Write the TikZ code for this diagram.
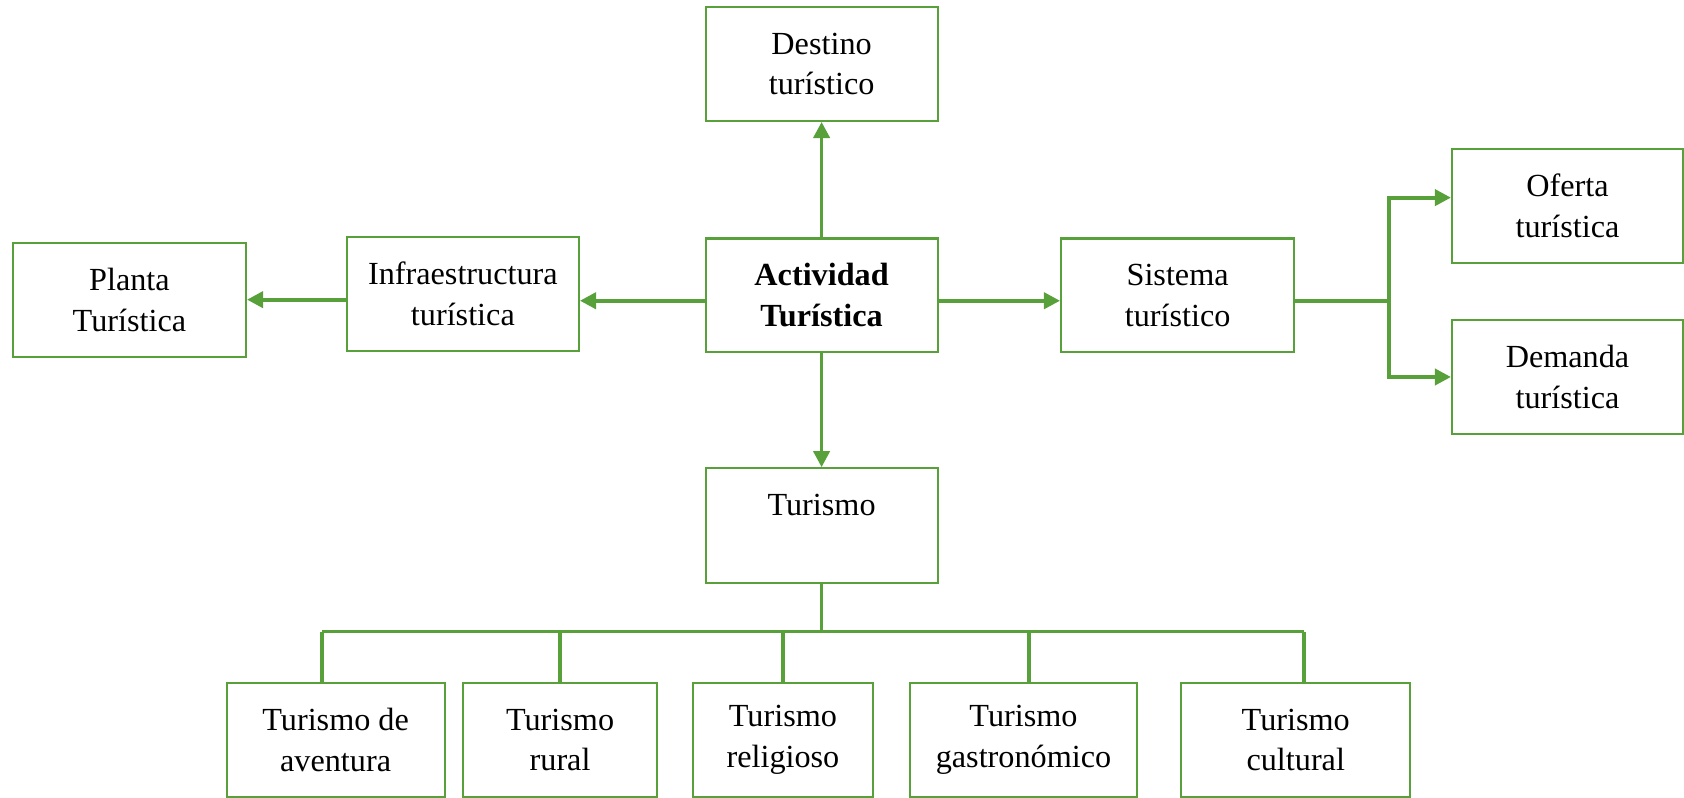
\documentclass[tikz,border=0pt]{standalone}
\usepackage{fontspec}
\setmainfont{Liberation Serif}
\usepackage{tikz}
\usetikzlibrary{arrows.meta}
\definecolor{leafgreen}{RGB}{88,160,58}

\begin{document}
\begin{tikzpicture}
[
    x=0.4pt,y=-0.4pt,
    font=\fontsize{12}{15.2}\selectfont,
    box/.style={draw=leafgreen,line width=0.8pt,align=center,
        minimum width=86.4pt,minimum height=42.4pt,inner sep=2pt},
    link/.style={draw=leafgreen,line width=1.4pt},
    arr/.style={link,-{Triangle[length=6pt,width=6pt]}}
]
\useasboundingbox (0,0) rectangle (1568,743);
% Central boxes
\node[box] (act) at (765,275) {\textbf{Actividad}\\\textbf{Turística}};
\node[box] (dest) at (765,59.5) {Destino\\turístico};
\node[box] (infra) at (431,273.5) {Infraestructura\\turística};
\node[box,minimum width=86.8pt] (planta) at (120.5,279) {Planta\\Turística};
\node[box,minimum width=86.8pt] (sist) at (1096.5,275) {Sistema\\turístico};
\node[box,minimum width=86pt] (oferta) at (1459.5,191.5) {Oferta\\turística};
\node[box,minimum width=86pt] (demanda) at (1459.5,351) {Demanda\\turística};
\node[box,minimum height=42.8pt] (tur) at (765,489.5) {Turismo\\~};
% Bottom row
\node[box,minimum width=81.2pt] (aventura) at (312.5,689) {Turismo de\\aventura};
\node[box,minimum width=72.4pt] (rural) at (521.5,689) {Turismo\\rural};
\node[box,minimum width=67.2pt] (religioso) at (729,689) {Turismo\\religioso};
\node[box,minimum width=84.8pt] (gastro) at (953,689) {Turismo\\gastronómico};
\node[box,minimum width=85.2pt] (cultural) at (1206.5,689) {Turismo\\cultural};
% Arrows
\draw[arr] (act) -- (dest);
\draw[arr] ([yshift=-2pt]act.west) -- ([yshift=-2pt]act.west -| infra.east);
\draw[arr] (infra.west |- planta) -- (planta);
\draw[arr] ([yshift=-2pt]act.east) -- ([yshift=-2pt]act.east -| sist.west);
\draw[arr] (act) -- (tur);
\draw[link] ([yshift=-2pt]sist.east) -- ++(35pt,0) coordinate (fork);
\draw[arr] (fork) |- ([yshift=3pt]oferta.west);
\draw[arr] (fork) |- (demanda);
% Bus to bottom row
\draw[link] (tur.south) -- (765,588) coordinate (bus);
\draw[link] ([xshift=-5pt]aventura.north |- bus) -- ([xshift=3pt]cultural.north |- bus);
\draw[link] ([xshift=-5pt]aventura.north) -- ([xshift=-5pt]aventura.north |- bus);
\draw[link] (rural.north) -- (rural.north |- bus);
\draw[link] (religioso.north) -- (religioso.north |- bus);
\draw[link] ([xshift=2pt]gastro.north) -- ([xshift=2pt]gastro.north |- bus);
\draw[link] ([xshift=3pt]cultural.north) -- ([xshift=3pt]cultural.north |- bus);
\end{tikzpicture}
\end{document}
